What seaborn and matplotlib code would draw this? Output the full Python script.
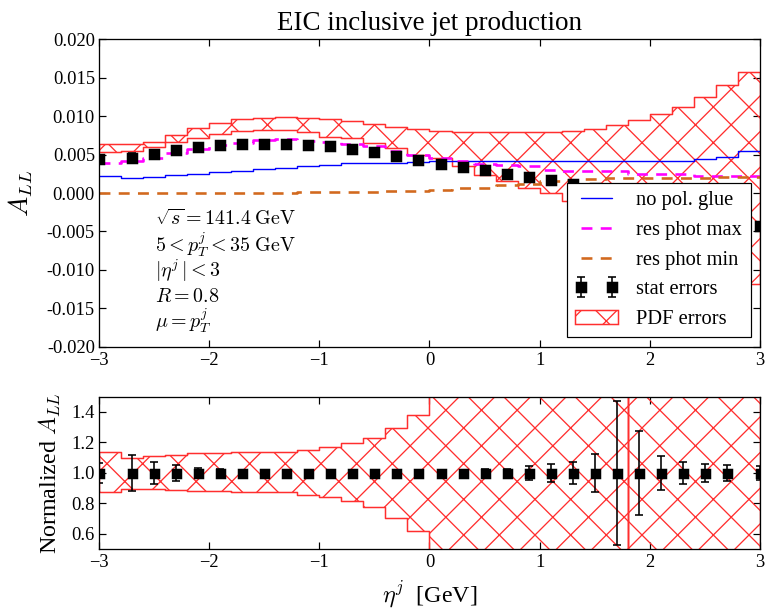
import numpy as np
import pandas as pd
import matplotlib
matplotlib.use("Agg")
import matplotlib.pyplot as plt
import seaborn as sns

# ---------------------------------------------------------------------------
# Data: EIC inclusive jet double-spin asymmetry versus jet pseudorapidity
# ---------------------------------------------------------------------------
# 30 bins of width 0.2 in eta^j
eta_edges = np.round(np.linspace(-3.0, 3.0, 31), 2)

# pseudo-data points with statistical errors
eta_points = [-3.0, -2.7, -2.5, -2.3, -2.1, -1.9, -1.7, -1.5, -1.3, -1.1,
              -0.9, -0.7, -0.5, -0.3, -0.1, 0.1, 0.3, 0.5, 0.7, 0.9,
              1.1, 1.3, 1.5, 1.7, 1.9, 2.1, 2.3, 2.5, 2.7, 3.0]
all_points = [0.0044, 0.0046, 0.0051, 0.0056, 0.0060, 0.0063, 0.0064, 0.0064, 0.0064, 0.0063,
              0.0061, 0.0057, 0.0053, 0.0048, 0.0043, 0.0038, 0.0034, 0.0030, 0.0025, 0.0021,
              0.0017, 0.0012, 0.0007, 0.0002, -0.0004, -0.0011, -0.0018, -0.0026, -0.0034, -0.0043]
stat_err = [0.00030, 0.00055, 0.00036, 0.00029, 0.00021, 0.00015, 0.00012, 0.00010, 0.00010, 0.00009,
            0.00008, 0.00008, 0.00007, 0.00007, 0.00007, 0.00007, 0.00007, 0.00007, 0.00007, 0.00009,
            0.00010, 0.00009, 0.000087, 0.000094, 0.00011, 0.00012, 0.000135, 0.00016, 0.00018, 0.00020]

# binned theory curves
no_pol_glue = [0.0022, 0.0020, 0.0021, 0.0023, 0.0025, 0.0027, 0.0029, 0.0031, 0.0033, 0.0035,
               0.0037, 0.0039, 0.0039, 0.0039, 0.0040, 0.0041, 0.0041, 0.0041, 0.0041, 0.0042,
               0.0042, 0.0042, 0.0041, 0.0041, 0.0042, 0.0042, 0.0042, 0.0044, 0.0047, 0.0055]
res_phot_max = [0.0039, 0.0041, 0.0046, 0.0052, 0.0057, 0.0062, 0.0065, 0.0069, 0.0070, 0.0068,
                0.0066, 0.0064, 0.0061, 0.0055, 0.0050, 0.0046, 0.0042, 0.0038, 0.0036, 0.0035,
                0.0030, 0.0028, 0.0028, 0.0028, 0.0025, 0.0025, 0.0025, 0.0022, 0.0022, 0.0022]
res_phot_min = [0.0, 0.0, 0.0, 0.0, 0.0, 0.0, 0.0, 0.0, 0.0, 0.0001,
                0.0001, 0.0001, 0.0001, 0.0002, 0.0003, 0.0004, 0.0006, 0.0007, 0.0010, 0.0012,
                0.0015, 0.0017, 0.0018, 0.0019, 0.0019, 0.0020, 0.0020, 0.0020, 0.0021, 0.0021]

# PDF uncertainty band
pdf_upper = [0.0064, 0.0064, 0.0067, 0.0075, 0.0084, 0.0091, 0.0096, 0.0098, 0.0099, 0.0097,
             0.0096, 0.0094, 0.0090, 0.0086, 0.0083, 0.0081, 0.0079, 0.0079, 0.0079, 0.0079,
             0.0079, 0.0081, 0.0083, 0.0089, 0.0095, 0.0103, 0.0112, 0.0125, 0.0140, 0.0158]
pdf_lower = [0.0053, 0.0055, 0.0060, 0.0066, 0.0072, 0.0077, 0.0081, 0.0082, 0.0082, 0.0079,
             0.0073, 0.0071, 0.0065, 0.0058, 0.0050, 0.0046, 0.0035, 0.0024, 0.0016, 0.0007,
             0.0000, -0.0011, -0.0022, -0.0033, -0.0045, -0.0057, -0.0070, -0.0085, -0.0100, -0.0118]

# normalized PDF band
norm_upper = [1.138, 1.100, 1.110, 1.115, 1.130, 1.130, 1.138, 1.138, 1.138, 1.153,
              1.168, 1.197, 1.230, 1.295, 1.380, 2.1, 2.3, 2.6, 3.2, 4.2,
              5.8, 9.0, 16.0, 45.0, -40.0, -14.0, -8.5, -6.0, -5.0, -4.5]
norm_lower = [0.875, 0.897, 0.897, 0.890, 0.880, 0.880, 0.873, 0.873, 0.873, 0.858,
              0.843, 0.814, 0.777, 0.705, 0.617, 0.2, -0.1, -0.5, -1.1, -2.0,
              -3.3, -6.0, -12.0, -35.0, 45.0, 17.0, 11.0, 8.5, 7.0, 6.0]

info_lines = [r"$\sqrt{s}=141.4\;\mathrm{GeV}$",
              r"$5<p_T^j<35\;\mathrm{GeV}$",
              r"$|\eta^j\,|<3$",
              r"$R=0.8$",
              r"$\mu=p_T^j$"]

# ---------------------------------------------------------------------------
DPI = 107
PX = 72.0 / DPI          # points per pixel
RED = (1.0, 0.18, 0.18)

sns.set_style("ticks")
plt.rcParams.update({
    "font.family": ["Liberation Serif", "DejaVu Serif"],
    "mathtext.fontset": "cm",
    "axes.edgecolor": "black",
    "axes.labelcolor": "black",
    "text.color": "black",
    "xtick.color": "black",
    "ytick.color": "black",
    "axes.linewidth": 1.3 * PX,
    "xtick.direction": "in",
    "ytick.direction": "in",
    "xtick.top": True,
    "ytick.right": True,
    "xtick.major.size": 7 * PX,
    "ytick.major.size": 7 * PX,
    "xtick.major.width": 1.2 * PX,
    "ytick.major.width": 1.2 * PX,
    "xtick.major.pad": 5 * PX,
    "ytick.major.pad": 4 * PX,
    "xtick.labelsize": 18.5 * PX,
    "ytick.labelsize": 18.5 * PX,
    "hatch.linewidth": 1.3 * PX,
    "hatch.color": "red",
    "axes.unicode_minus": True,
})


def ext(vals):
    """Repeat the last bin value so a post-step reaches the right edge."""
    return np.append(np.asarray(vals, dtype=float), vals[-1])


fig = plt.figure(figsize=(777 / DPI, 613 / DPI), dpi=DPI)
ax1 = fig.add_axes([0.1274, 0.4344, 0.8507, 0.5015])
ax2 = fig.add_axes([0.1274, 0.1040, 0.8507, 0.2488])

# ---- top panel ----------------------------------------------------------
band = ax1.fill_between(eta_edges, ext(pdf_lower), ext(pdf_upper), step="post",
                        facecolor="none", edgecolor=RED, hatch="x",
                        linewidth=1.5 * PX, zorder=1)

curves = pd.DataFrame({
    "eta": eta_edges,
    "no_pol": ext(no_pol_glue),
    "max": ext(res_phot_max),
    "min": ext(res_phot_min),
})
sns.lineplot(data=curves, x="eta", y="no_pol", ax=ax1, color="blue",
             linewidth=1.4 * PX, drawstyle="steps-post", errorbar=None, zorder=2)
sns.lineplot(data=curves, x="eta", y="max", ax=ax1, color="magenta",
             linewidth=2.6 * PX, linestyle=(0, (4.2, 3.2)), drawstyle="steps-post",
             errorbar=None, zorder=2)
sns.lineplot(data=curves, x="eta", y="min", ax=ax1, color="#d2691e",
             linewidth=2.6 * PX, linestyle=(0, (4.2, 3.2)), drawstyle="steps-post",
             errorbar=None, zorder=2)
h_blue, h_max, h_min = ax1.get_lines()[:3]

stat = ax1.errorbar(eta_points, all_points, yerr=stat_err, fmt="s", color="black",
                    ms=10 * PX, capsize=4 * PX, elinewidth=1.6 * PX,
                    capthick=1.6 * PX, zorder=4)

ax1.set_xlim(-3, 3)
ax1.set_ylim(-0.02, 0.02)
ax1.set_xticks([-3, -2, -1, 0, 1, 2, 3])
ax1.set_yticks(np.round(np.arange(-0.02, 0.0201, 0.005), 3))
ax1.yaxis.set_major_formatter(matplotlib.ticker.FormatStrFormatter("%.3f"))
ax1.set_xlabel("")
ax1.set_ylabel(r"$A_{LL}$", fontsize=27 * PX)
ax1.yaxis.set_label_coords(-0.097, 0.5)
ax1.set_title("EIC inclusive jet production", fontsize=27 * PX, pad=9 * PX)

info_y = [0.396, 0.309, 0.228, 0.146, 0.061]
for txt, yy in zip(info_lines, info_y):
    ax1.text(0.085, yy, txt, transform=ax1.transAxes, fontsize=20 * PX,
             ha="left", va="baseline")

leg = ax1.legend(handles=[h_blue, h_max, h_min, stat, band],
                 labels=["no pol. glue", "res phot max", "res phot min",
                         "stat errors", "PDF errors"],
                 loc="lower right", numpoints=2, fontsize=20.5 * PX,
                 frameon=True, fancybox=False, framealpha=1.0,
                 edgecolor="black", borderpad=0.42, handlelength=2.1,
                 handletextpad=0.88, labelspacing=0.5, borderaxespad=0.45)
leg.get_frame().set_linewidth(1.2 * PX)
leg.set_zorder(10)

# ---- bottom panel -------------------------------------------------------
pts = np.asarray(all_points)
errs = np.asarray(stat_err)
ax2.fill_between(eta_edges, ext(norm_lower), ext(norm_upper), step="post",
                 facecolor="none", edgecolor=RED, hatch="x",
                 linewidth=1.5 * PX, zorder=1)
ax2.errorbar(eta_points, pts / pts, yerr=errs / np.abs(pts), fmt="s",
             color="black", ms=9 * PX, capsize=4 * PX, elinewidth=1.6 * PX,
             capthick=1.6 * PX, zorder=4)

ax2.set_xlim(-3, 3)
ax2.set_ylim(0.5, 1.5)
ax2.set_xticks([-3, -2, -1, 0, 1, 2, 3])
ax2.set_yticks([0.6, 0.8, 1.0, 1.2, 1.4])
ax2.set_ylabel(r"Normalized $A_{LL}$", fontsize=24 * PX)
ax2.yaxis.set_label_coords(-0.055, 0.5)
ax2.set_xlabel(r"$\eta^j$  [GeV]", fontsize=24 * PX)
ax2.xaxis.set_label_coords(0.5, -0.2)

fig.savefig("out.png", dpi=DPI)
